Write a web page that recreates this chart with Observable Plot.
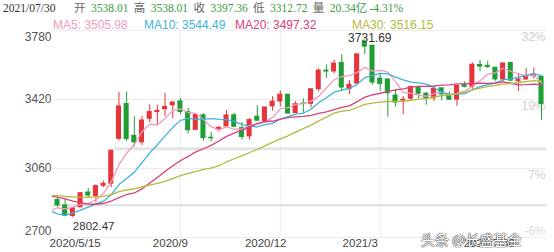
<!DOCTYPE html>
<html><head><meta charset="utf-8">
<script src="https://cdn.jsdelivr.net/npm/d3@7"></script>
<script src="https://cdn.jsdelivr.net/npm/@observablehq/plot@0.6"></script>
<style>
html,body{margin:0;padding:0;background:#fff;}
#wrap{position:relative;width:554px;height:252px;overflow:hidden;}
#hdr{position:relative;height:28px;}
#hdr span{position:absolute;white-space:pre;}
.l1{top:3px;font:11.5px "Liberation Serif","Noto Sans CJK SC",serif;line-height:11px;}
.l2{top:19px;font:12px "Liberation Sans",Arial,sans-serif;line-height:12px;}
#wm{position:absolute;left:421px;top:229px;font:14px "Noto Sans CJK SC",sans-serif;color:#fff;text-shadow:0 0 1px #333,0 0 1px #333,0 0 1px #333;white-space:pre;}
</style></head>
<body><div id="wrap"><div id="hdr"></div><div id="chart"></div><div id="wm"></div></div>
<script>
// ---- data (weekly, Shanghai Composite) ----
const weeks = ["2020/05/15","2020/05/22","2020/05/29","2020/06/05","2020/06/12","2020/06/19","2020/06/24","2020/07/03","2020/07/10","2020/07/17","2020/07/24","2020/07/31","2020/08/07","2020/08/14","2020/08/21","2020/08/28","2020/09/04","2020/09/11","2020/09/18","2020/09/25","2020/09/30","2020/10/09","2020/10/16","2020/10/23","2020/10/30","2020/11/06","2020/11/13","2020/11/20","2020/11/27","2020/12/04","2020/12/11","2020/12/18","2020/12/25","2020/12/31","2021/01/08","2021/01/15","2021/01/22","2021/01/29","2021/02/05","2021/02/10","2021/02/19","2021/02/26","2021/03/05","2021/03/12","2021/03/19","2021/03/26","2021/04/02","2021/04/09","2021/04/16","2021/04/23","2021/04/30","2021/05/07","2021/05/14","2021/05/21","2021/05/28","2021/06/04","2021/06/11","2021/06/18","2021/06/25","2021/07/02","2021/07/09","2021/07/16","2021/07/23","2021/07/30"];
const open  = [2894.80,2866.90,2813.00,2858.00,2934.00,2917.00,2970.00,2981.00,3215.00,3396.00,3230.00,3197.00,3320.00,3355.00,3370.00,3390.00,3410.00,3354.00,3262.00,3337.00,3220.00,3262.00,3280.00,3337.00,3270.00,3228.00,3330.00,3308.00,3385.00,3410.00,3444.00,3350.00,3398.00,3398.00,3474.68,3570.00,3567.00,3610.00,3474.00,3504.00,3718.00,3700.00,3528.00,3524.00,3440.00,3415.00,3425.00,3480.00,3450.00,3427.00,3478.00,3443.00,3420.00,3495.00,3487.00,3600.00,3595.00,3585.00,3525.00,3610.00,3516.00,3525.00,3542.00,3538.01];
const high  = [2909.20,2897.50,2857.00,2933.00,2956.00,2974.00,2995.00,3153.00,3456.97,3458.79,3330.00,3333.00,3392.00,3390.00,3453.00,3407.00,3425.00,3374.00,3342.00,3346.00,3249.00,3280.00,3362.00,3347.00,3300.00,3320.00,3387.00,3378.00,3435.00,3465.00,3448.00,3410.00,3423.00,3474.00,3580.00,3600.00,3626.00,3655.00,3519.00,3655.09,3731.69,3702.00,3552.00,3528.00,3471.00,3435.00,3490.00,3490.00,3456.00,3488.00,3479.00,3460.00,3490.00,3513.00,3611.00,3624.00,3620.00,3588.00,3610.00,3611.00,3555.00,3581.00,3584.00,3538.01];
const low   = [2857.64,2810.32,2802.47,2856.00,2905.00,2883.00,2960.00,2961.00,3203.00,3200.00,3172.00,3180.00,3300.00,3290.00,3330.00,3320.00,3340.00,3240.00,3259.00,3202.00,3198.00,3250.00,3277.00,3275.00,3209.00,3209.00,3305.00,3299.00,3359.00,3380.00,3345.00,3345.00,3345.00,3375.00,3461.00,3530.00,3553.00,3461.00,3446.00,3500.00,3655.00,3495.00,3464.00,3328.00,3382.00,3342.00,3410.00,3424.00,3390.00,3410.00,3413.00,3415.00,3385.00,3480.00,3473.00,3565.00,3582.00,3515.00,3512.00,3511.00,3462.00,3522.00,3528.00,3312.72];
const close = [2868.46,2813.77,2852.35,2930.80,2919.74,2967.63,2979.55,3152.81,3383.32,3214.13,3196.77,3310.01,3354.04,3360.10,3380.68,3403.81,3355.37,3260.35,3338.09,3219.42,3218.05,3272.08,3336.36,3278.00,3224.53,3312.16,3310.10,3377.73,3408.31,3444.58,3347.19,3394.90,3396.56,3473.07,3570.11,3566.38,3606.75,3483.07,3496.33,3655.09,3696.17,3509.08,3501.99,3453.08,3404.66,3418.33,3484.39,3450.68,3426.62,3474.17,3446.86,3418.87,3490.38,3486.56,3600.78,3591.84,3589.75,3525.10,3607.56,3518.76,3524.09,3539.30,3550.40,3397.36];
// 29 weekly closes before the first shown week (needed for the moving averages)
const priorClose = [2938.14,2954.93,2958.20,2964.18,2891.34,2885.29,2871.98,2912.01,2967.68,3004.94,3005.04,3083.79,3092.29,3075.50,2976.53,2875.96,2917.01,3039.67,2880.30,3034.51,2887.43,2745.62,2772.20,2763.99,2796.63,2838.50,2808.53,2860.08,2895.34];
const yTicks = [3780, 3420, 3060, 2700];
const pctLabels = ["32%", "19%", "7%", "-6%"];
const xTickLabels = ["2020/5/15", "2020/9", "2020/12", "2021/3", "2021/7/30"];
const xTickAt = [2.3, 14.7, 27.1, 39.4, 56.2];   // week index under each label
const vGridAt = [16, 29, 42];                     // first week of Sep / Dec / Mar
const refLevel = {value: 3163, fromWeek: 7.5};    // grey reference band
const maSpecs = [{k:5,name:"MA5",value:"3505.98",color:"#f29ac0"},{k:10,name:"MA10",value:"3544.49",color:"#3fb3dc"},{k:20,name:"MA20",value:"3497.32",color:"#d6407c"},{k:30,name:"MA30",value:"3516.15",color:"#b2bb3c"}];
const header = {date:"2021/07/30", items:[["开","3538.01"],["高","3538.01"],["收","3397.36"],["低","3312.72"],["量","20.34亿"]], change:"-4.31%"};
const watermark = "头条 @长盛基金";

const RED = "#e5343a", GREEN = "#1f9e35", VALC = "#3d9a45";

// ---- header ----
const hdr = document.getElementById("hdr");
function span(cls, txt, left, color){const s=document.createElement("span");s.className=cls;s.textContent=txt;s.style.left=left+"px";s.style.color=color;hdr.appendChild(s);}
span("l1", header.date, 3, "#333");
header.items.forEach(([lab,val],j)=>{const x0=74+j*59.7;span("l1",lab,x0,"#666");span("l1",val,x0+17,VALC);});
span("l1", header.change, 74+5*59.7-3, VALC);
const maLeft = [53, 144, 235, 352];
maSpecs.forEach((m,j)=>span("l2", m.name+": "+m.value, maLeft[j], m.color));
document.getElementById("wm").textContent = watermark;

// ---- rows ----
const rows = close.map((c,i)=>({i, open:open[i], high:high[i], low:low[i], close:c,
  lo:Math.min(open[i],c), hi:Math.max(open[i],c), up:c>=open[i]}));
const allClose = priorClose.map((c,j)=>({i:j-priorClose.length, close:c})).concat(rows.map(r=>({i:r.i, close:r.close})));
const col = d=>d.up?RED:GREEN;
const peak = rows.reduce((a,b)=>b.high>a.high?b:a);
const trough = rows.reduce((a,b)=>b.low<a.low?b:a);
const F = "Liberation Sans, Arial";

const chart = Plot.plot({
  width: 554, height: 224,
  marginTop: 2, marginBottom: 15, marginLeft: 52, marginRight: 8,
  x: {domain: [-0.65, 63.65], axis: null},
  y: {domain: [2700, 3780], axis: null},
  style: {background: "#fff"},
  marks: [
    Plot.ruleY(yTicks, {stroke: "#ececec"}),
    Plot.ruleX(vGridAt, {stroke: "#efefef"}),
    Plot.ruleY([close[0]], {stroke: "#dedede", strokeWidth: 2}),
    Plot.ruleY([refLevel.value], {x1: refLevel.fromWeek, x2: 63.65, stroke: "#e3e3e3", strokeWidth: 3}),
    Plot.text(yTicks.slice(0,1), {y: d=>d, text: d=>String(d), frameAnchor: "left", textAnchor: "end", dx: -1, dy: 7, fill: "#555", fontSize: 12, fontFamily: F}),
    Plot.text(yTicks.slice(1,3), {y: d=>d, text: d=>String(d), frameAnchor: "left", textAnchor: "end", dx: -1, fill: "#555", fontSize: 12, fontFamily: F}),
    Plot.text(yTicks.slice(3), {y: d=>d, text: d=>String(d), frameAnchor: "left", textAnchor: "end", dx: -1, dy: -6, fill: "#555", fontSize: 12, fontFamily: F}),
    Plot.text(yTicks.slice(0,3), {y: d=>d, text: (d,k)=>pctLabels[k], frameAnchor: "right", textAnchor: "end", dx: -1, dy: 7, fill: "#cfcfcf", fontSize: 12, fontFamily: F}),
    Plot.text(yTicks.slice(3), {y: d=>d, text: d=>pctLabels[3], frameAnchor: "right", textAnchor: "end", dx: -1, dy: -6, fill: "#dcdcdc", fontSize: 12, fontFamily: F}),
    Plot.text(xTickLabels, {x: (d,k)=>xTickAt[k], text: d=>d, frameAnchor: "bottom", dy: 9, fill: "#444", fontSize: 11.5, fontFamily: F}),
    Plot.ruleX(rows, {x: "i", y1: "low", y2: "high", stroke: col, strokeWidth: 1}),
    Plot.rect(rows, {x1: d=>d.i-0.33, x2: d=>d.i+0.33, y1: "lo", y2: "hi", fill: col, insetTop: -0.6, insetBottom: -0.6}),
    ...maSpecs.map(m=>Plot.lineY(allClose, Plot.windowY({k: m.k, anchor: "end"}, {x: "i", y: "close", stroke: m.color, strokeWidth: 1.3, clip: true}))),
    Plot.text([peak], {x: "i", y: "high", text: d=>d.high.toFixed(2), dx: 5, dy: -2, fill: "#333", fontSize: 12, fontFamily: F}),
    Plot.text([trough], {x: "i", y: "low", text: d=>d.low.toFixed(2), textAnchor: "start", dy: 8, fill: "#333", fontSize: 11.5, fontFamily: F})
  ]
});
document.getElementById("chart").appendChild(chart);
</script></body></html>
